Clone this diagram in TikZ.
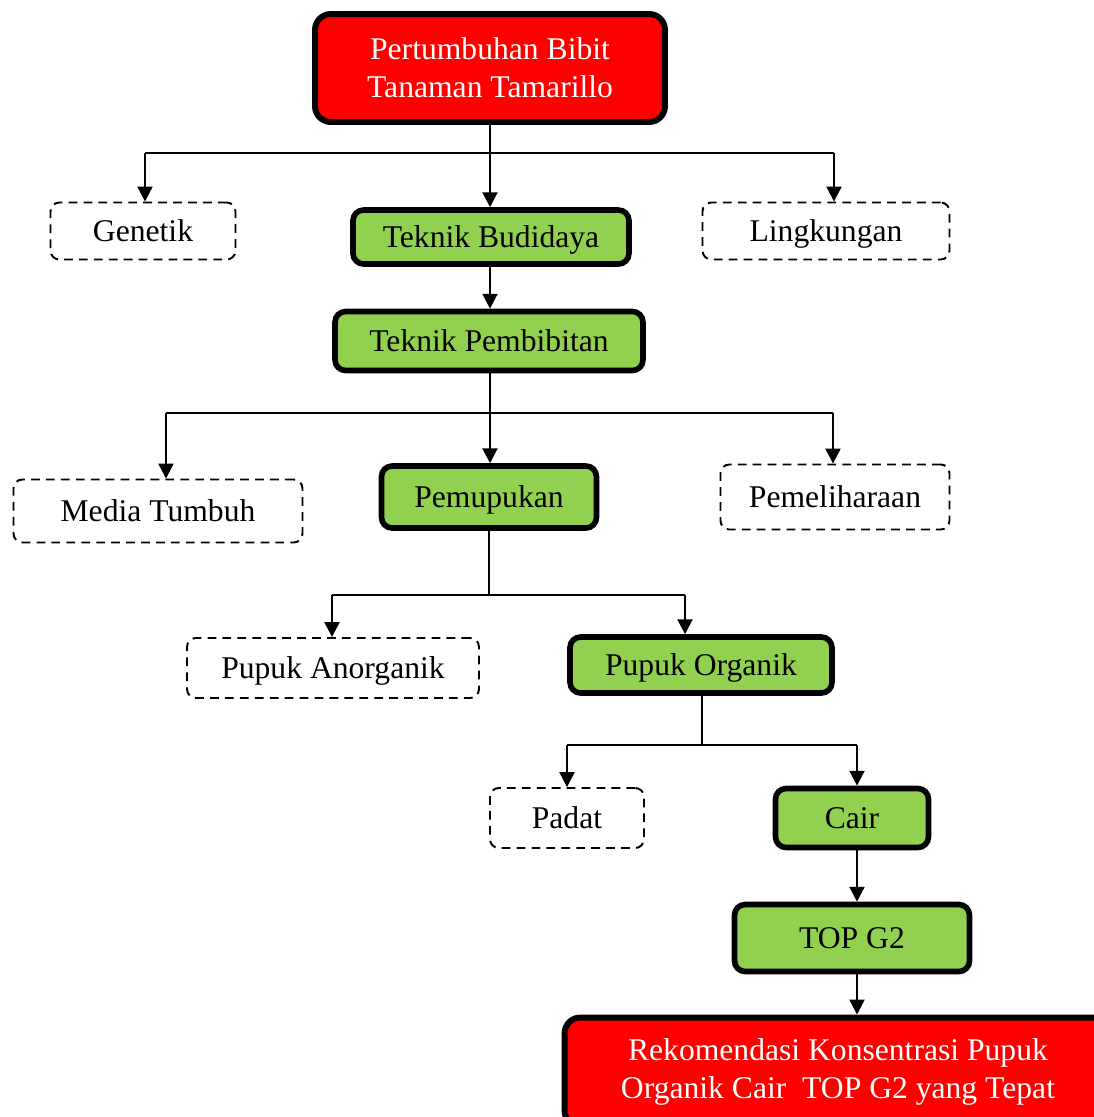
\documentclass[tikz,border=0pt]{standalone}
\usepackage{fontspec}
\setmainfont{Liberation Serif}
\usetikzlibrary{arrows.meta}
\definecolor{boxred}{HTML}{FF0000}
\definecolor{boxgreen}{HTML}{92D050}
\tikzset{
  mainbox/.style={draw, line width=3.4pt, rounded corners=9pt, fill=boxred, text=white, align=center, inner sep=0pt},
  greenbox/.style={draw, line width=3.2pt, rounded corners=6pt, fill=boxgreen, inner sep=0pt, text depth=0pt},
  dashbox/.style={draw, line width=1.1pt, dash pattern=on 5pt off 3.5pt, rounded corners=5pt, inner sep=0pt, text depth=0pt},
  arr/.style={-{Triangle[length=8.5pt,width=8.5pt]}, line width=1.3pt},
  branch/.style={line width=0.8pt},
}
\begin{document}
\begin{tikzpicture}[x=0.02cm, y=-0.02cm, font=\fontsize{18}{21.5}\selectfont]
    \clip (0,0) rectangle (1094,1117);

    \node[mainbox, minimum width=7cm, minimum height=2.16cm] at (490,68) (top) {Pertumbuhan Bibit\\Tanaman Tamarillo};

    \node[dashbox, minimum width=3.7cm, minimum height=1.14cm] at (143,231) (genetik) {Genetik};
    \node[greenbox, minimum width=5.52cm, minimum height=1.08cm] at (491,237) (budidaya) {Teknik Budidaya};
    \node[dashbox, minimum width=4.94cm, minimum height=1.14cm] at (826,231) (lingkungan) {Lingkungan};

    \node[greenbox, minimum width=6.16cm, minimum height=1.18cm] at (489,341) (pembibitan) {Teknik Pembibitan};

    \node[dashbox, minimum width=5.78cm, minimum height=1.26cm] at (158,511) (media) {Media Tumbuh};
    \node[greenbox, minimum width=4.3cm, minimum height=1.24cm] at (489,497) (pemupukan) {Pemupukan};
    \node[dashbox, minimum width=4.58cm, minimum height=1.3cm] at (835,497) (pemeliharaan) {Pemeliharaan};

    \node[dashbox, minimum width=5.84cm, minimum height=1.2cm] at (333,668) (anorganik) {Pupuk Anorganik};
    \node[greenbox, minimum width=5.24cm, minimum height=1.12cm] at (701,665) (organik) {Pupuk Organik};

    \node[dashbox, minimum width=3.08cm, minimum height=1.2cm] at (567,818) (padat) {Padat};
    \node[greenbox, minimum width=3.06cm, minimum height=1.18cm] at (852,818) (cair) {Cair};

    \node[greenbox, minimum width=4.7cm, minimum height=1.34cm] at (852,938) (topg) {TOP G2};

    \node[mainbox, minimum width=10.94cm, minimum height=2.18cm] at (838,1072) (rekom) {Rekomendasi Konsentrasi Pupuk\\Organik Cair~ TOP G2 yang Tepat};

    % first split
    \coordinate (s1) at (490,153);
    \coordinate (s1l) at (145,153);
    \coordinate (s1r) at (834,153);
    \draw[branch] (s1l) -- (s1r);
    \draw[arr] (s1l) -- (s1l |- genetik.north);
    \draw[arr] (s1r) -- (s1r |- lingkungan.north);
    \draw[arr] (s1 |- top.south) -- (s1 |- budidaya.north);

    \draw[arr] (s1 |- budidaya.south) -- (s1 |- pembibitan.north);

    % second split
    \coordinate (s2l) at (166,413);
    \coordinate (s2r) at (833,413);
    \draw[branch] (s2l) -- (s2r);
    \draw[arr] (s2l) -- (s2l |- media.north);
    \draw[arr] (s2r) -- (s2r |- pemeliharaan.north);
    \draw[arr] (s1 |- pembibitan.south) -- (s1 |- pemupukan.north);

    % third split
    \coordinate (s3) at (489,595);
    \coordinate (s3l) at (332,595);
    \coordinate (s3r) at (685,595);
    \draw[branch] (pemupukan.south) -- (s3);
    \draw[branch] (s3l) -- (s3r);
    \draw[arr] (s3l) -- (s3l |- anorganik.north);
    \draw[arr] (s3r) -- (s3r |- organik.north);

    % fourth split
    \coordinate (s4) at (702,745);
    \coordinate (s4l) at (567,745);
    \coordinate (s4r) at (857,745);
    \draw[branch] (s4 |- organik.south) -- (s4);
    \draw[branch] (s4l) -- (s4r);
    \draw[arr] (s4l) -- (s4l |- padat.north);
    \draw[arr] (s4r) -- (s4r |- cair.north);

    \draw[arr] (s4r |- cair.south) -- (s4r |- topg.north);
    \draw[arr] (s4r |- topg.south) -- (s4r |- rekom.north);
\end{tikzpicture}
\end{document}
